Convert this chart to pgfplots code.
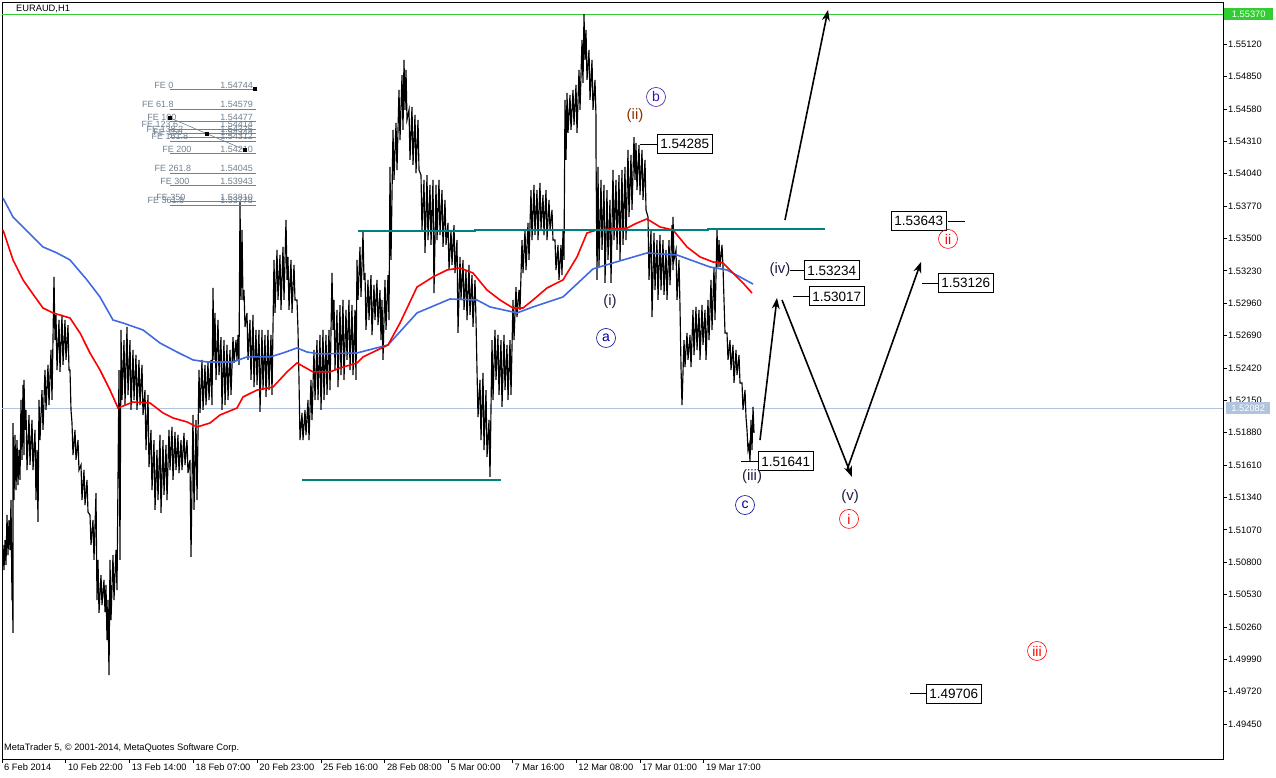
\documentclass[border=0pt]{standalone}
\usepackage{pgfplots}
\pgfplotsset{compat=1.18}
\usepackage{fontspec}
\setmainfont{Liberation Sans}
\usetikzlibrary{arrows.meta}
\definecolor{teal1}{RGB}{0,128,128}
\definecolor{mared}{RGB}{255,0,0}
\definecolor{mablue}{RGB}{65,105,225}
\definecolor{lgreen}{RGB}{50,205,50}
\definecolor{lsteel}{RGB}{176,196,222}
\definecolor{fegray}{RGB}{112,128,144}
\definecolor{wnavy}{RGB}{0,0,150}
\definecolor{windigo}{RGB}{60,20,170}
\definecolor{wdark}{RGB}{30,30,70}
\definecolor{wbrown}{RGB}{140,50,0}
\tikzset{
  pbox/.style={draw=black, fill=white, line width=0.8pt, font=\fontsize{13.5}{14}\selectfont, inner xsep=3pt, inner ysep=1pt, minimum height=19pt, anchor=west},
  wl/.style={font=\fontsize{15}{15}\selectfont, text=wdark},
  circ/.style={circle, draw, line width=0.6pt, inner sep=0.3pt, minimum size=19pt, font=\fontsize{14}{14}\selectfont},
  fel/.style={anchor=south, inner sep=1pt, text=fegray, font=\fontsize{9}{9}\selectfont},
  fev/.style={anchor=south east, inner sep=1pt, text=fegray, font=\fontsize{9}{9}\selectfont},
}
\begin{document}
\begin{tikzpicture}[x=1pt,y=1pt]
\useasboundingbox (0,0) rectangle (1276,777);
\begin{axis}[
  at={(2pt,18pt)}, anchor=south west,
  scale only axis, width=1221pt, height=757pt,
  xmin=2, xmax=1223, ymin=1.49159, ymax=1.55472,
  clip=false,
  axis line style={line width=0.9pt, black},
  tick align=outside, major tick length=4pt,
  tick style={black, line width=0.8pt},
  xtick pos=bottom, xticklabel pos=lower,
  ytick pos=right, yticklabel pos=right,
  xtick={2,65.8,129.6,193.4,257.2,321,384.8,448.6,512.4,576.2,640,703.8},
  xticklabels={6 Feb 2014,10 Feb 22:00,13 Feb 14:00,18 Feb 07:00,20 Feb 23:00,25 Feb 16:00,28 Feb 08:00,5 Mar 00:00,7 Mar 16:00,12 Mar 08:00,17 Mar 01:00,19 Mar 17:00},
  xticklabel style={anchor=north west, xshift=1pt, inner sep=1pt, font=\fontsize{9.3}{10}\selectfont},
  ytick={1.4945,1.4972,1.4999,1.5026,1.5053,1.5080,1.5107,1.5134,1.5161,1.5188,1.5215,1.5242,1.5269,1.5296,1.5323,1.5350,1.5377,1.5404,1.5431,1.5458,1.5485,1.5512},
  yticklabels={1.49450,1.49720,1.49990,1.50260,1.50530,1.50800,1.51070,1.51340,1.51610,1.51880,1.52150,1.52420,1.52690,1.52960,1.53230,1.53500,1.53770,1.54040,1.54310,1.54580,1.54850,1.55120},
  yticklabel style={anchor=west, inner sep=1pt, xshift=0pt, font=\fontsize{9.3}{10}\selectfont},
]
% reference lines
\addplot[lsteel, line width=1pt] coordinates {(2,1.52082)(1223,1.52082)};
\addplot[lgreen, line width=1pt] coordinates {(2,1.55370)(1223,1.55370)};

% price (H1 highs and lows)
\addplot[black, line width=1.15pt] coordinates {
(3,1.50944)(4,1.50735)(5,1.50985)(6,1.50777)(7,1.51194)(8,1.50860)(9,1.51152)(10,1.50902)
(11,1.51319)(12,1.50485)(12,1.50819)(13,1.50210)(13,1.51961)(14,1.51319)(15,1.51861)(16,1.51402)
(17,1.51819)(18,1.51444)(19,1.51736)(20,1.51486)(21,1.52153)(22,1.51653)(23,1.52278)(24,1.51694)
(24,1.52320)(25,1.51903)(26,1.52070)(27,1.51569)(29,1.52028)(30,1.51611)(32,1.51986)(33,1.51569)
(35,1.51903)(36,1.51319)(37,1.51736)(38,1.51136)(39,1.52153)(40,1.51819)(42,1.52236)(43,1.51903)
(45,1.52403)(46,1.52070)(48,1.52445)(49,1.52111)(51,1.52570)(52,1.52153)(54,1.53179)(55,1.52653)
(56,1.52862)(57,1.52403)(59,1.52820)(60,1.52387)(62,1.52862)(63,1.52445)(65,1.52820)(66,1.52487)
(68,1.52778)(69,1.52403)(70,1.52403)(71,1.52070)(72,1.51961)(73,1.51694)(75,1.51903)(76,1.51653)
(78,1.51819)(79,1.51569)(81,1.51611)(82,1.51319)(84,1.51569)(85,1.51277)(87,1.51486)(88,1.51219)
(90,1.51194)(91,1.50944)(93,1.51152)(94,1.50819)(96,1.51377)(97,1.50485)(98,1.50819)(99,1.50377)
(101,1.50693)(102,1.50443)(104,1.50652)(105,1.50385)(106,1.50610)(107,1.50151)(108,1.50485)(109,1.49859)
(110,1.50819)(111,1.50318)(113,1.50860)(114,1.50485)(116,1.50902)(117,1.50568)(119,1.52403)(120,1.50819)
(121,1.52737)(122,1.52153)(124,1.52653)(125,1.52111)(127,1.52762)(128,1.52195)(130,1.52653)(131,1.52070)
(133,1.52570)(134,1.52153)(136,1.52528)(137,1.52070)(139,1.52487)(140,1.52111)(142,1.52445)(143,1.52028)
(145,1.52236)(146,1.51736)(148,1.52195)(149,1.51594)(151,1.51903)(152,1.51402)(154,1.51819)(155,1.51236)
(157,1.51736)(158,1.51319)(160,1.51861)(161,1.51211)(163,1.51819)(164,1.51361)(166,1.51778)(167,1.51319)
(169,1.51903)(170,1.51569)(172,1.51928)(173,1.51486)(175,1.51886)(176,1.51569)(178,1.51861)(179,1.51544)
(181,1.51819)(182,1.51569)(184,1.51878)(185,1.51611)(187,1.51819)(188,1.51544)(190,1.51653)(191,1.50844)
(193,1.52028)(194,1.51236)(196,1.51986)(197,1.51319)(199,1.52403)(200,1.52045)(202,1.52487)(203,1.52070)
(205,1.52445)(206,1.52111)(208,1.52470)(209,1.52153)(211,1.52487)(212,1.52111)(213,1.53087)(214,1.52487)
(215,1.52879)(216,1.52320)(218,1.52820)(219,1.52361)(221,1.52678)(222,1.52070)(224,1.52653)(225,1.52111)
(227,1.52612)(228,1.52153)(230,1.52570)(231,1.52195)(233,1.52678)(234,1.52462)(236,1.52653)(237,1.52487)
(238,1.52695)(239,1.52445)(240,1.53804)(241,1.52987)(242,1.53571)(243,1.52987)(244,1.53070)(245,1.52762)
(247,1.52879)(248,1.52487)(250,1.52820)(251,1.52320)(253,1.52862)(254,1.52261)(256,1.52737)(257,1.52278)
(259,1.52737)(260,1.52053)(262,1.52737)(263,1.52236)(265,1.52695)(266,1.52178)(268,1.52737)(269,1.52236)
(271,1.52695)(272,1.52195)(274,1.53321)(275,1.52879)(277,1.53404)(278,1.52987)(280,1.53362)(281,1.52904)
(283,1.53429)(284,1.52987)(286,1.53654)(287,1.53154)(288,1.53346)(289,1.52904)(291,1.53321)(292,1.52879)
(294,1.53279)(295,1.52987)(297,1.52987)(298,1.52737)(299,1.52320)(300,1.51819)(302,1.52045)(303,1.51819)
(305,1.52070)(306,1.51861)(308,1.52153)(309,1.51819)(311,1.52320)(312,1.51986)(314,1.52570)(315,1.52153)
(317,1.52653)(318,1.52153)(320,1.52695)(321,1.52070)(323,1.52737)(324,1.52153)(326,1.52695)(327,1.52195)
(329,1.52737)(330,1.52236)(332,1.53212)(333,1.52737)(334,1.52987)(335,1.52403)(337,1.52904)(338,1.52261)
(340,1.52945)(341,1.52361)(343,1.52987)(344,1.52320)(346,1.52904)(347,1.52487)(349,1.52987)(350,1.52403)
(352,1.52945)(353,1.52361)(355,1.52904)(356,1.52320)(357,1.53321)(358,1.52987)(360,1.53429)(361,1.53012)
(363,1.53554)(364,1.53154)(365,1.53212)(366,1.52737)(368,1.53154)(369,1.52820)(371,1.53195)(372,1.52695)
(374,1.53112)(375,1.52820)(377,1.53154)(378,1.52778)(380,1.53070)(381,1.52653)(382,1.52987)(383,1.52487)
(385,1.53154)(386,1.52737)(388,1.53195)(389,1.52820)(390,1.54096)(391,1.53321)(393,1.54405)(394,1.53988)
(396,1.54463)(397,1.54071)(399,1.54738)(400,1.54321)(402,1.54863)(403,1.54405)(404,1.54989)(405,1.54572)
(406,1.54905)(407,1.54488)(409,1.54572)(410,1.54155)(412,1.54597)(413,1.54113)(415,1.54530)(416,1.54046)
(418,1.54488)(419,1.54071)(421,1.54029)(422,1.53571)(424,1.53988)(425,1.53379)(427,1.54029)(428,1.53487)
(430,1.53946)(431,1.53446)(433,1.53988)(434,1.53045)(436,1.53946)(437,1.53487)(439,1.53988)(440,1.53529)
(442,1.53904)(443,1.53429)(445,1.53821)(446,1.53446)(448,1.53629)(449,1.53237)(451,1.53571)(452,1.53279)
(454,1.53612)(455,1.53212)(457,1.53487)(458,1.52712)(460,1.53346)(461,1.52987)(463,1.53321)(464,1.52904)
(466,1.53237)(467,1.52820)(469,1.53279)(470,1.52862)(472,1.53195)(473,1.52762)(475,1.53154)(476,1.52820)
(477,1.52403)(478,1.52011)(480,1.52320)(481,1.51819)(483,1.52378)(484,1.51736)(486,1.52236)(487,1.51678)
(489,1.51986)(490,1.51511)(492,1.52653)(493,1.52153)(495,1.52737)(496,1.52320)(498,1.52695)(499,1.52195)
(501,1.52653)(502,1.52095)(504,1.52695)(505,1.52236)(507,1.52612)(508,1.52153)(510,1.52653)(511,1.52195)
(513,1.52987)(514,1.52653)(516,1.53095)(517,1.52845)(519,1.53070)(520,1.52904)(522,1.53487)(523,1.53212)
(525,1.53571)(526,1.53237)(528,1.53629)(529,1.53321)(531,1.53904)(532,1.53487)(534,1.53946)(535,1.53529)
(537,1.53904)(538,1.53487)(540,1.53963)(541,1.53571)(543,1.53863)(544,1.53529)(546,1.53904)(547,1.53487)
(549,1.53821)(550,1.53571)(552,1.53738)(553,1.53487)(555,1.53487)(556,1.53237)(558,1.53446)(559,1.53154)
(561,1.53446)(562,1.53195)(563,1.53571)(564,1.53321)(565,1.54655)(566,1.54155)(567,1.54713)(568,1.54380)
(570,1.54697)(571,1.54405)(573,1.54738)(574,1.54446)(576,1.54780)(577,1.54380)(579,1.54905)(580,1.54572)
(582,1.55155)(583,1.54797)(584,1.55370)(585,1.54989)(586,1.55239)(587,1.54822)(589,1.55072)(590,1.54655)
(592,1.54989)(593,1.54572)(595,1.54822)(596,1.54513)(596,1.54238)(597,1.53154)(598,1.54096)(599,1.53262)
(601,1.53988)(602,1.53404)(604,1.53946)(605,1.53129)(607,1.53904)(608,1.53321)(610,1.53821)(611,1.53129)
(613,1.54071)(614,1.53487)(616,1.53988)(617,1.53404)(619,1.54029)(620,1.53321)(622,1.54071)(623,1.53446)
(625,1.54096)(626,1.53487)(628,1.54238)(629,1.53679)(631,1.54196)(632,1.53738)(634,1.54346)(635,1.53988)
(636,1.54296)(637,1.53904)(639,1.54280)(640,1.53863)(642,1.54238)(643,1.53821)(645,1.54155)(646,1.53738)
(648,1.53679)(649,1.53154)(651,1.53571)(652,1.52845)(654,1.53546)(655,1.53070)(657,1.53487)(658,1.52987)
(660,1.53529)(661,1.53070)(663,1.53487)(664,1.53029)(666,1.53404)(667,1.52987)(669,1.53487)(670,1.53112)
(672,1.53612)(673,1.53237)(673,1.53679)(674,1.53321)(676,1.53404)(677,1.52987)(679,1.53321)(680,1.52929)
(681,1.52428)(682,1.52111)(684,1.52653)(685,1.52428)(687,1.52712)(688,1.52487)(690,1.52695)(691,1.52428)
(693,1.52904)(694,1.52528)(696,1.52929)(697,1.52570)(699,1.52904)(700,1.52487)(702,1.52945)(703,1.52612)
(705,1.52904)(706,1.52487)(708,1.52987)(709,1.52653)(711,1.53154)(712,1.52737)(714,1.53262)(715,1.52820)
(717,1.53571)(718,1.53262)(719,1.53487)(720,1.53262)(722,1.53446)(723,1.53262)(724,1.52987)(725,1.52712)
(727,1.52712)(728,1.52487)(730,1.52653)(731,1.52403)(733,1.52612)(734,1.52295)(736,1.52570)(737,1.52361)
(739,1.52528)(740,1.52295)(742,1.52295)(743,1.52070)(745,1.52236)(746,1.52011)(747,1.51903)(748,1.51736)
(749,1.51778)(750,1.51641)(751,1.51986)(752,1.51736)(753,1.52095)(754,1.51878)
};

% moving averages
\addplot[mablue, line width=1.6pt] coordinates {
(3,1.53838)(13,1.53679)(33,1.53512)(43,1.53429)(57,1.53379)(70,1.53321)(87,1.53154)(100,1.53012)
(113,1.52820)(123,1.52795)(143,1.52737)(160,1.52628)(177,1.52553)(193,1.52487)(207,1.52470)(233,1.52470)
(247,1.52512)(270,1.52512)(283,1.52545)(297,1.52587)(307,1.52553)(320,1.52537)(357,1.52545)(388,1.52612)
(417,1.52879)(450,1.52995)(477,1.52987)(490,1.52929)(517,1.52879)(533,1.52929)(563,1.53012)(593,1.53246)
(613,1.53296)(647,1.53379)(677,1.53362)(710,1.53262)(727,1.53237)(740,1.53179)(753,1.53120)
};
\addplot[mared, line width=1.6pt] coordinates {
(3,1.53571)(13,1.53321)(23,1.53154)(35,1.53012)(43,1.52920)(53,1.52879)(70,1.52837)(80,1.52712)
(90,1.52545)(100,1.52403)(110,1.52236)(118,1.52086)(133,1.52136)(150,1.52128)(163,1.52045)(173,1.52003)
(187,1.51970)(197,1.51928)(210,1.51961)(220,1.52028)(237,1.52086)(243,1.52178)(257,1.52236)(273,1.52261)
(287,1.52387)(297,1.52462)(313,1.52387)(330,1.52387)(340,1.52420)(357,1.52462)(363,1.52512)(388,1.52612)
(400,1.52795)(417,1.53095)(433,1.53179)(447,1.53237)(460,1.53254)(473,1.53212)(487,1.53070)(500,1.52987)
(513,1.52920)(523,1.52920)(533,1.52987)(547,1.53087)(563,1.53154)(577,1.53346)(587,1.53546)(597,1.53571)
(627,1.53587)(637,1.53629)(647,1.53663)(660,1.53596)(673,1.53571)(687,1.53429)(700,1.53346)(713,1.53304)
(723,1.53296)(733,1.53212)(743,1.53129)(752,1.53045)
};

% horizontal levels
\addplot[teal1, line width=1.8pt] coordinates {(358,1.53562)(475,1.53562)(475,1.53571)(708,1.53571)(708,1.53579)(825,1.53579)};
\addplot[teal1, line width=1.8pt] coordinates {(302,1.51486)(501,1.51486)};

% forecast arrows
\addplot[black, line width=1.6pt, -{Stealth[length=11pt,width=8pt]}] coordinates {(785,1.53654)(828,1.55406)};
\addplot[black, line width=1.6pt, -{Stealth[length=11pt,width=8pt]}] coordinates {(760,1.51819)(777,1.53004)};
\addplot[black, line width=1.6pt, -{Stealth[length=11pt,width=8pt]}] coordinates {(782,1.52987)(852,1.51511)};
\addplot[black, line width=1.6pt, -{Stealth[length=11pt,width=8pt]}] coordinates {(847,1.51569)(921,1.53304)};

% FE levels
\foreach \lv in {1.54744,1.54579,1.54477,1.54414,1.54375,1.54344,1.54312,1.54210,1.54045,1.53943,1.53810,1.53778}{
  \edef\tmp{\noexpand\draw[fegray, line width=0.7pt] (axis cs:170,\lv) -- (axis cs:256,\lv);}\tmp
}
\node[fel] at (axis cs:164,1.54744) {FE 0};
\node[fev] at (axis cs:254,1.54744) {1.54744};
\node[fel] at (axis cs:158,1.54579) {FE 61.8};
\node[fev] at (axis cs:254,1.54579) {1.54579};
\node[fel] at (axis cs:162,1.54477) {FE 100};
\node[fev] at (axis cs:254,1.54477) {1.54477};
\node[fel] at (axis cs:160,1.54414) {FE 123.6};
\node[fev] at (axis cs:254,1.54414) {1.54414};
\node[fel] at (axis cs:165,1.54375) {FE 138.2};
\node[fev] at (axis cs:254,1.54375) {1.54375};
\node[fel] at (axis cs:168,1.54344) {FE 150};
\node[fev] at (axis cs:254,1.54344) {1.54344};
\node[fel] at (axis cs:170,1.54312) {FE 161.8};
\node[fev] at (axis cs:254,1.54312) {1.54312};
\node[fel] at (axis cs:177,1.54210) {FE 200};
\node[fev] at (axis cs:254,1.54210) {1.54210};
\node[fel] at (axis cs:173,1.54045) {FE 261.8};
\node[fev] at (axis cs:254,1.54045) {1.54045};
\node[fel] at (axis cs:175,1.53943) {FE 300};
\node[fev] at (axis cs:254,1.53943) {1.53943};
\node[fel] at (axis cs:171,1.53810) {FE 350};
\node[fev] at (axis cs:254,1.53810) {1.53810};
\node[fel] at (axis cs:166,1.53778) {FE 361.8};
\node[fev] at (axis cs:254,1.53778) {1.53778};
\draw[fegray, line width=0.6pt] (axis cs:170,1.54505) -- (axis cs:245,1.54238);
\fill[black] (axis cs:255,1.54744) ++(-2pt,-2pt) rectangle ++(4pt,4pt);
\fill[black] (axis cs:170,1.54505) ++(-2pt,-2pt) rectangle ++(4pt,4pt);
\fill[black] (axis cs:207,1.54371) ++(-2pt,-2pt) rectangle ++(4pt,4pt);
\fill[black] (axis cs:245,1.54238) ++(-2pt,-2pt) rectangle ++(4pt,4pt);

% price boxes with leaders
\draw[line width=0.8pt] (axis cs:640,1.54285) -- (axis cs:657,1.54285);
\node[pbox] at (axis cs:657,1.54285) {1.54285};
\draw[line width=0.8pt] (axis cs:741,1.51641) -- (axis cs:758,1.51641);
\node[pbox] at (axis cs:758,1.51641) {1.51641};
\draw[line width=0.8pt] (axis cs:790,1.53234) -- (axis cs:804,1.53234);
\node[pbox] at (axis cs:804,1.53234) {1.53234};
\draw[line width=0.8pt] (axis cs:793,1.53017) -- (axis cs:809,1.53017);
\node[pbox] at (axis cs:809,1.53017) {1.53017};
\draw[line width=0.8pt] (axis cs:948,1.53643) -- (axis cs:965,1.53643);
\node[pbox] at (axis cs:891,1.53643) {1.53643};
\draw[line width=0.8pt] (axis cs:922,1.53126) -- (axis cs:938,1.53126);
\node[pbox] at (axis cs:938,1.53126) {1.53126};
\draw[line width=0.8pt] (axis cs:910,1.49706) -- (axis cs:926,1.49706);
\node[pbox] at (axis cs:926,1.49706) {1.49706};

% wave labels
\node[circ, draw=windigo, text=windigo] at (axis cs:656,1.54680) {b};
\node[wl, text=wbrown] at (axis cs:635,1.54522) {(ii)};
\node[wl] at (axis cs:610,1.52970) {(i)};
\node[circ, draw=wnavy, text=wnavy] at (axis cs:606,1.52670) {a};
\node[wl] at (axis cs:752,1.51511) {(iii)};
\node[circ, draw=wnavy, text=wnavy] at (axis cs:745,1.51277) {c};
\node[wl] at (axis cs:780,1.53237) {(iv)};
\node[wl] at (axis cs:850,1.51344) {(v)};
\node[circ, draw=red, text=red] at (axis cs:849,1.51161) {i};
\node[circ, draw=red, text=red] at (axis cs:948,1.53496) {ii};
\node[circ, draw=red, text=red] at (axis cs:1037,1.50060) {iii};

% titles
\node[anchor=west, inner sep=0pt, font=\fontsize{9.3}{10}\selectfont] at (axis cs:16,1.55414) {EURAUD,H1};
\node[anchor=west, inner sep=0pt, font=\fontsize{9.3}{10}\selectfont] at (axis cs:4,1.49251) {MetaTrader 5, © 2001-2014, MetaQuotes Software Corp.};

\coordinate (gtag) at (axis cs:1223,1.55370);
\coordinate (stag) at (axis cs:1223,1.52082);
\end{axis}
\node[fill=lgreen, text=white, anchor=west, minimum width=49pt, minimum height=12pt, inner sep=0pt, font=\fontsize{9.3}{10}\selectfont] at ([xshift=1pt]gtag) {1.55370};
\node[fill=lsteel, text=white, anchor=west, minimum width=44pt, minimum height=12pt, inner sep=0pt, font=\fontsize{9.3}{10}\selectfont] at ([xshift=3pt]stag) {1.52082};
\end{tikzpicture}
\end{document}
